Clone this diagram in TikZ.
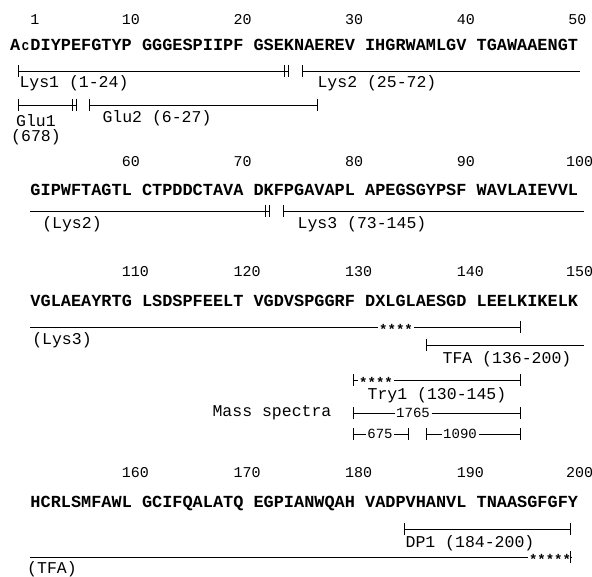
\documentclass[tikz,border=0pt]{standalone}
\usepackage{fontspec}
\setmonofont{Liberation Mono}
\usetikzlibrary{arrows.meta}

\begin{document}
\begin{tikzpicture}[
		x=1pt, y=-1pt,
		>={Bar[width=12pt, sep=2.5pt]},
		seq/.style={font=\ttfamily\bfseries\fontsize{16.9}{18}\selectfont, anchor=base west, inner sep=0pt},
		num/.style={font=\ttfamily\fontsize{15}{16}\selectfont, anchor=base west, inner sep=0pt},
		lbl/.style={font=\ttfamily\fontsize{16.5}{15}\selectfont, inner sep=0pt, align=center},
		mass/.style={font=\ttfamily\fontsize{14}{14}\selectfont, inner sep=1.5pt},
		stars/.style={font=\ttfamily\bfseries\fontsize{14}{14}\selectfont, inner sep=1pt, text height=3pt, text depth=3pt},
		frag/.style={line width=0.8pt}
	]
		\useasboundingbox (0,0) rectangle (592,577);
		
		% Residue numbers
		\node[num] (n1) at (30.3,25) {1};
		\node[num] (n10) at (121.6,25) {10};
		\node[num] (n20) at (233.3,25) {20};
		\node[num] (n30) at (345,25) {30};
		\node[num] (n40) at (456.6,25) {40};
		\node[num] (n50) at (568.2,25) {50};
		\node[num] (n60) at (121.6,166.5) {60};
		\node[num] (n70) at (233.3,166.5) {70};
		\node[num] (n80) at (345,166.5) {80};
		\node[num] (n90) at (456.6,166.5) {90};
		\node[num] (n100) at (566,166.5) {100};
		\node[num] (n110) at (121.6,276.5) {110};
		\node[num] (n120) at (233.3,276.5) {120};
		\node[num] (n130) at (345,276.5) {130};
		\node[num] (n140) at (456.6,276.5) {140};
		\node[num] (n150) at (566,276.5) {150};
		\node[num] (n160) at (121.6,477.5) {160};
		\node[num] (n170) at (233.3,477.5) {170};
		\node[num] (n180) at (345,477.5) {180};
		\node[num] (n190) at (456.6,477.5) {190};
		\node[num] (n200) at (566,477.5) {200};
		
		% Sequence
		\node[seq] (seq1) at (10,51) {A\makebox[0.6em]{\fontsize{12}{12}\selectfont C}DIYPEFGTYP GGGESPIIPF GSEKNAEREV IHGRWAMLGV TGAWAAENGT};
		\node[seq] (seq2) at (30.3,196) {GIPWFTAGTL CTPDDCTAVA DKFPGAVAPL APEGSGYPSF WAVLAIEVVL};
		\node[seq] (seq3) at (30.3,307) {VGLAEAYRTG LSDSPFEELT VGDVSPGGRF DXLGLAESGD LEELKIKELK};
		\node[seq] (seq4) at (30.3,507) {HCRLSMFAWL GCIFQALATQ EGPIANWQAH VADPVHANVL TNAASGFGFY};
		
		% Fragment ends
		\coordinate (lys1a) at (15,71);
		\coordinate (lys1b) at (291,71);
		\coordinate (lys2a) at (299,71);
		\coordinate (lys2b) at (580,71);
		\coordinate (glu1a) at (15,105);
		\coordinate (glu1b) at (79,105);
		\coordinate (glu2a) at (86,105);
		\coordinate (glu2b) at (320,105);
		\coordinate (lys2c) at (30,211);
		\coordinate (lys2d) at (272,211);
		\coordinate (lys3a) at (280,211);
		\coordinate (lys3b) at (584,211);
		\coordinate (lys3c) at (30,327);
		\coordinate (lys3d) at (523,327);
		\coordinate (tfaa) at (423,345);
		\coordinate (tfab) at (584,345);
		\coordinate (trya) at (350,380);
		\coordinate (tryb) at (523,380);
		\coordinate (msa) at (350,413);
		\coordinate (msb) at (523,413);
		\coordinate (msc) at (350,434);
		\coordinate (msd) at (411,434);
		\coordinate (mse) at (423,434);
		\coordinate (msf) at (523,434);
		\coordinate (dpa) at (401,529);
		\coordinate (dpb) at (573,529);
		\coordinate (tfac) at (30,557);
		\coordinate (tfad) at (573,557);
		
		% Stars and masses on the lines
		\node[stars] (st1) at (396,327) {\raisebox{-7.5pt}{****}};
		\node[stars] (st2) at (376,380) {\raisebox{-7.5pt}{****}};
		\node[stars] (st3) at (550,557) {\raisebox{-7.5pt}{*****}};
		\node[mass] (m1765) at (413,413) {1765};
		\node[mass] (m675) at (380,434) {675};
		\node[mass] (m1090) at (460,434) {1090};
		
		% Fragments
		\draw[frag, <->>] (lys1a) -- (lys1b);
		\draw[frag, <-] (lys2a) -- (lys2b);
		\draw[frag, <->>] (glu1a) -- (glu1b);
		\draw[frag, <->] (glu2a) -- (glu2b);
		\draw[frag, ->>] (lys2c) -- (lys2d);
		\draw[frag, <-] (lys3a) -- (lys3b);
		\draw[frag] (lys3c) -- (st1.west);
		\draw[frag, ->] (st1.east) -- (lys3d);
		\draw[frag, <-] (tfaa) -- (tfab);
		\draw[frag, <-] (trya) -- (st2.west);
		\draw[frag, ->] (st2.east) -- (tryb);
		\draw[frag, <-] (msa) -- (m1765);
		\draw[frag, ->] (m1765) -- (msb);
		\draw[frag, <-] (msc) -- (m675);
		\draw[frag, ->] (m675) -- (msd);
		\draw[frag, <-] (mse) -- (m1090);
		\draw[frag, ->] (m1090) -- (msf);
		\draw[frag, <->] (dpa) -- (dpb);
		\draw[frag] (tfac) -- (st3.west);
		\draw[frag, ->] (st3.east) -- (tfad);
		
		% Labels
		\node[lbl] (lys1) at (74,83) {Lys1 (1-24)};
		\node[lbl] (lys2) at (377,83) {Lys2 (25-72)};
		\node[lbl] (glu2) at (157,118) {Glu2 (6-27)};
		\node[lbl] (glu1) at (36,130) {Glu1\\(678)};
		\node[lbl] (lys2x) at (72,224) {(Lys2)};
		\node[lbl] (lys3) at (362,224) {Lys3 (73-145)};
		\node[lbl] (lys3x) at (62,340) {(Lys3)};
		\node[lbl] (tfa) at (507,359) {TFA (136-200)};
		\node[lbl] (try1) at (437,395) {Try1 (130-145)};
		\node[lbl] (mass) at (272,413) {Mass spectra};
		\node[lbl] (dp1) at (470,543) {DP1 (184-200)};
		\node[lbl] (tfax) at (52,569) {(TFA)};
		
	\end{tikzpicture}
\end{document}
